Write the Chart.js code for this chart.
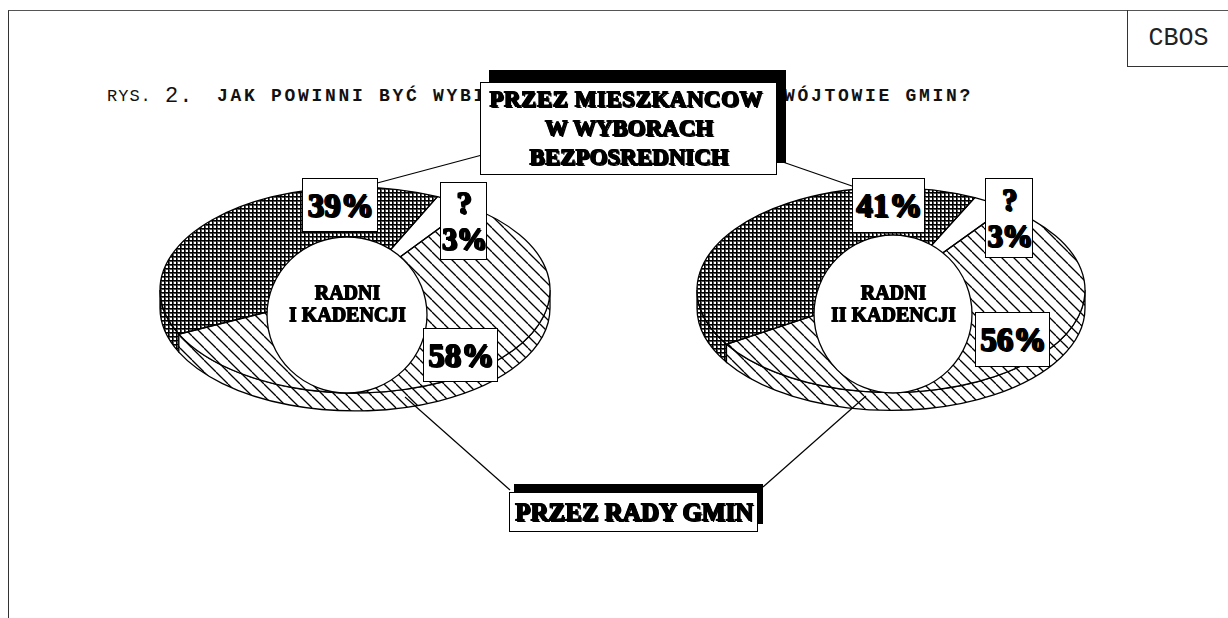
<!DOCTYPE html>
<html>
<head>
<meta charset="utf-8">
<script src="https://cdn.jsdelivr.net/npm/chart.js@4.4.1/dist/chart.umd.min.js"></script>
<style>
html, body { margin: 0; padding: 0; background: #fff; }
#page { position: relative; width: 1228px; height: 618px; overflow: hidden; background: #fff; }
#page canvas { position: absolute; left: 0; top: 0; }
.frame { position: absolute; left: 8px; top: 10px; width: 1230px; height: 620px; border-top: 1px solid #555; border-left: 1px solid #333; }
.cbos { position: absolute; left: 1127px; top: 10px; width: 101px; height: 56px; border-left: 1px solid #333; border-bottom: 1px solid #333;
        font: 25px "Liberation Mono", monospace; text-align: center; line-height: 58px; color: #222; }
.t { position: absolute; white-space: nowrap; font-family: "Liberation Mono", monospace; color: #111; }
.lbl { position: absolute; box-sizing: border-box; background: #fff; border: 1px solid #000; text-align: center; color: #000;
       font-family: "Liberation Serif", serif; font-weight: bold; white-space: nowrap;
       text-shadow: 1px 0 0 #000, 0 1px 0 #000, 1px 1px 0 #000, 2px 2px 0 #000; }
.hole { position: absolute; text-align: center; font-family: "Liberation Serif", serif; font-weight: bold; font-size: 20px;
        line-height: 22px; color: #000; white-space: nowrap;
        text-shadow: 1px 0 0 #000, 0 1px 0 #000, 1px 1px 0 #000; }
</style>
</head>
<body>
<div id="page">
  <div class="frame"></div>
  <div class="cbos">CBOS</div>
  <div class="t" style="left:107px;top:87px;font-size:17px;letter-spacing:1px;">RYS.</div>
  <div class="t" style="left:165px;top:84px;font-size:22px;letter-spacing:1px;">2.</div>
  <div class="t" style="left:217px;top:86px;font-size:18px;font-weight:bold;letter-spacing:2.7px;">JAK POWINNI BYĆ WYBIERANI BURMISTRZOWIE I WÓJTOWIE GMIN?</div>

  <canvas id="pie1" width="1228" height="618"></canvas>
  <canvas id="pie2" width="1228" height="618"></canvas>

  <div class="lbl" style="left:480px;top:82px;width:297px;height:93px;border-width:1.5px;font-size:23px;line-height:29px;padding-top:1px;box-shadow:9px -12px 0 #000;">
    <span style="letter-spacing:0.5px;margin-left:-6px;">PRZEZ MIESZKANCOW</span><br>W WYBORACH<br>BEZPOSREDNICH</div>
  <div class="lbl" style="left:509px;top:492px;width:249px;height:40px;border-width:1.5px;font-size:25px;line-height:38px;box-shadow:5px -8px 0 #000;">PRZEZ RADY GMIN</div>

  <div class="lbl" style="left:302px;top:178px;width:76px;height:54px;font-size:33px;line-height:52px;">39%</div>
  <div class="lbl" style="left:440px;top:182px;width:47px;height:78px;font-size:31px;line-height:36px;padding-top:2px;">?<br><span style="letter-spacing:-1px;">3%</span></div>
  <div class="lbl" style="left:423px;top:328px;width:75px;height:54px;font-size:33px;line-height:52px;">58%</div>
  <div class="hole" style="left:262px;top:281px;width:170px;">RADNI<br>I KADENCJI</div>

  <div class="lbl" style="left:852px;top:178px;width:73px;height:55px;font-size:33px;line-height:53px;">41%</div>
  <div class="lbl" style="left:985px;top:178px;width:48px;height:80px;font-size:31px;line-height:36px;padding-top:3px;">?<br><span style="letter-spacing:-1px;">3%</span></div>
  <div class="lbl" style="left:975px;top:312px;width:75px;height:55px;font-size:33px;line-height:53px;">56%</div>
  <div class="hole" style="left:808px;top:281px;width:170px;">RADNI<br>II KADENCJI</div>
</div>

<script>
// Odpowiedzi: przez mieszkancow / trudno powiedziec / przez rady gmin
var sliceLabels = ['Przez mieszkańców w wyborach bezpośrednich', '?', 'Przez rady gmin'];
var kadencja1 = [39, 3, 58];
var kadencja2 = [41, 3, 56];

function crossPattern() {
    var c = document.createElement('canvas');
    c.width = 4; c.height = 4;
    var g = c.getContext('2d');
    g.fillStyle = '#fff';
    g.fillRect(0, 0, 4, 4);
    g.fillStyle = '#555';
    g.fillRect(0, 0, 4, 2);
    g.fillRect(0, 0, 2, 4);
    g.fillStyle = '#000';
    g.fillRect(0, 0, 4, 1);
    g.fillRect(0, 0, 1, 4);
    return document.getElementById('pie1').getContext('2d').createPattern(c, 'repeat');
}

function diagPattern() {
    var c = document.createElement('canvas');
    c.width = 12; c.height = 12;
    var g = c.getContext('2d');
    g.fillStyle = '#fff';
    g.fillRect(0, 0, 12, 12);
    g.strokeStyle = '#000';
    g.lineWidth = 1.3;
    for (var o = -12; o <= 12; o += 12) {
        g.beginPath();
        g.moveTo(o, 0);
        g.lineTo(o + 12, 12);
        g.stroke();
    }
    return document.getElementById('pie1').getContext('2d').createPattern(c, 'repeat');
}

// squashes the pie into an ellipse and adds a side band + white centre
function pie3d(s) {
    var topFills = [crossPattern(), '#fff', diagPattern()];
    var sideFills = [crossPattern(), '#fff', diagPattern()];
    function squash(ctx, cy) {
        ctx.translate(0, cy);
        ctx.scale(1, s.tilt);
        ctx.translate(0, -cy);
    }
    return {
        id: 'pie3d',
        topFills: topFills,
        beforeDatasetsDraw: function(chart) {
            var ctx = chart.ctx;
            var arcs = chart.getDatasetMeta(0).data;
            var cx = arcs[0].x, cy = arcs[0].y, r = arcs[0].outerRadius, ry = r * s.tilt;
            ctx.save();
            ctx.lineWidth = 1.3;
            ctx.strokeStyle = '#000';
            arcs.forEach(function(arc, i) {
                for (var n = -1; n <= 2; n++) {
                    var base = n * 2 * Math.PI;
                    var lo = Math.max(arc.startAngle, base), hi = Math.min(arc.endAngle, base + Math.PI);
                    if (hi <= lo) continue;
                    ctx.beginPath();
                    ctx.ellipse(cx, cy, r, ry, 0, lo - base, hi - base);
                    ctx.ellipse(cx, cy + s.depth, r, ry, 0, hi - base, lo - base, true);
                    ctx.closePath();
                    ctx.fillStyle = sideFills[i];
                    ctx.fill();
                    ctx.stroke();
                }
            });
            ctx.restore();
            // keep the hatching unsquashed on the top face
            var m = new DOMMatrix().translate(0, cy).scale(1, 1 / s.tilt).translate(0, -cy);
            topFills.forEach(function(f) { if (typeof f !== 'string') f.setTransform(m); });
            ctx.save();
            squash(ctx, cy);
        },
        afterDatasetsDraw: function(chart) {
            var ctx = chart.ctx;
            ctx.restore();
            var arcs = chart.getDatasetMeta(0).data;
            var cx = arcs[0].x, cy = arcs[0].y, r = arcs[0].outerRadius;
            ctx.save();
            ctx.lineWidth = 1.3;
            ctx.strokeStyle = '#000';
            arcs.forEach(function(arc) {
                ctx.save();
                squash(ctx, cy);
                ctx.beginPath();
                ctx.moveTo(cx, cy);
                ctx.arc(cx, cy, r, arc.startAngle, arc.endAngle);
                ctx.closePath();
                ctx.restore();
                ctx.stroke();
            });
            ctx.beginPath();
            ctx.ellipse(cx + s.hole.dx, cy + s.hole.dy, s.hole.rx, s.hole.ry, 0, 0, 2 * Math.PI);
            ctx.fillStyle = '#fff';
            ctx.fill();
            ctx.stroke();
            ctx.restore();
        },
        afterDraw: function(chart) {
            var ctx = chart.ctx;
            ctx.save();
            ctx.lineWidth = 1.2;
            ctx.strokeStyle = '#000';
            s.leaders.forEach(function(l) {
                ctx.beginPath();
                ctx.moveTo(l[0], l[1]);
                ctx.lineTo(l[2], l[3]);
                ctx.stroke();
            });
            ctx.restore();
        }
    };
}

function makePie(id, values, rotation, padding, settings) {
    var plug = pie3d(settings);
    return new Chart(document.getElementById(id), {
        type: 'pie',
        data: {
            labels: sliceLabels,
            datasets: [{
                data: values,
                backgroundColor: plug.topFills,
                borderWidth: 0,
                hoverOffset: 0
            }]
        },
        options: {
            responsive: false,
            animation: false,
            events: [],
            rotation: rotation,
            layout: { padding: padding },
            plugins: { legend: { display: false }, tooltip: { enabled: false } }
        },
        plugins: [plug]
    });
}

var chart1 = makePie('pie1', kadencja1, 244.6,
    { left: 160, right: 678, top: 95, bottom: 133 },
    { tilt: 0.528, depth: 18, hole: { dx: -8, dy: 25, rx: 80, ry: 78 },
      leaders: [[482, 155, 366, 186], [510, 490, 405, 397]] });

var chart2 = makePie('pie2', kadencja2, 238,
    { left: 697, right: 143, top: 95, bottom: 133 },
    { tilt: 0.528, depth: 18, hole: { dx: 2, dy: 24, rx: 79, ry: 79 },
      leaders: [[777, 160, 852, 186], [763, 487, 866, 396]] });
</script>
</body>
</html>
